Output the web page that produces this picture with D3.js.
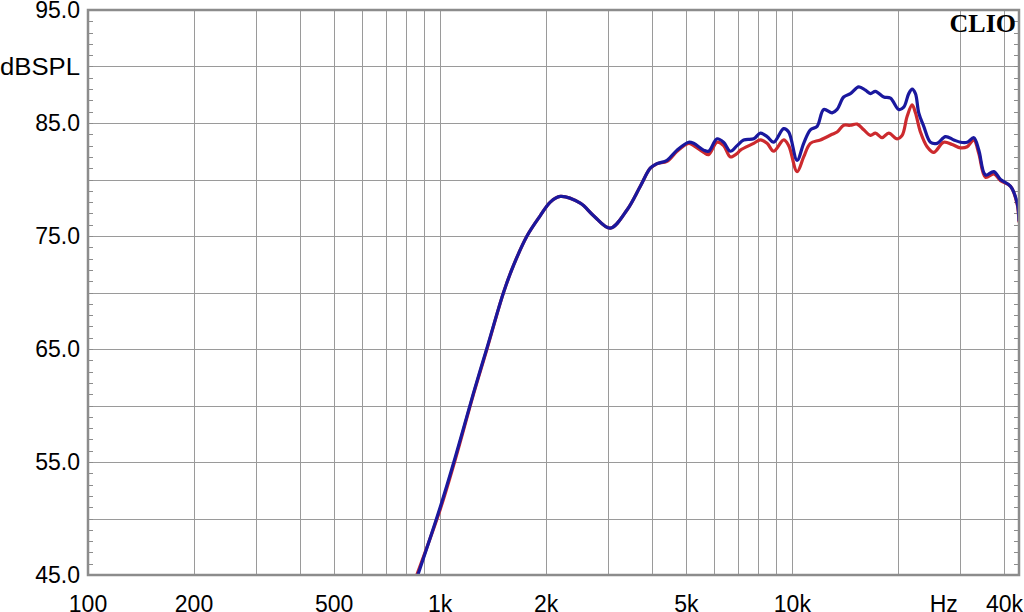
<!DOCTYPE html>
<html>
<head>
<meta charset="utf-8">
<script src="https://cdn.jsdelivr.net/npm/d3@7/dist/d3.min.js"></script>
<style>
  html, body { margin: 0; padding: 0; background: #fff; }
  svg { display: block; }
  text { font-family: "Liberation Sans", Arial, sans-serif; fill: #000; }
</style>
</head>
<body>
<svg id="chart" width="1024" height="612"></svg>
<script>
// ---------- DATA ----------
const freqMin = 100;
const freqMax = 44000;
const dbMin = 45;
const dbMax = 95;

const xGridFreqs = [200, 300, 400, 500, 600, 700, 800, 900, 1000, 2000, 3000, 4000, 5000, 6000, 7000, 8000, 9000, 10000, 20000, 30000, 40000];
const xTickFreqs = [100, 200, 500, 1000, 2000, 5000, 10000, 40000];
const xTickLabels = ["100", "200", "500", "1k", "2k", "5k", "10k", "40k"];
const xUnitLabel = "Hz";
const xUnitFreq = 26900;

const yGridValues = [50, 55, 60, 65, 70, 75, 80, 85, 90];
const yTickValues = [95, 85, 75, 65, 55, 45];
const yTickLabels = ["95.0", "85.0", "75.0", "65.0", "55.0", "45.0"];
const yUnitLabel = "dBSPL";
const yUnitValue = 90;
const brandLabel = "CLIO";

const blueFreq = [864, 1000, 1103, 1243, 1358, 1513, 1615, 1764, 1924, 2054, 2193, 2499, 2726, 3041, 3391, 3700, 3950, 4127, 4406, 4704, 5075, 5243, 5598, 5783, 6111, 6378, 6667, 6965, 7272, 7766, 8111, 8475, 8850, 9447, 9761, 10313, 10768, 11248, 11755, 12275, 12968, 13397, 13985, 14615, 15433, 16124, 16660, 17214, 18175, 18988, 20045, 20712, 21400, 21883, 22357, 22846, 23605, 24660, 25770, 27208, 28722, 30012, 31355, 32743, 33830, 35344, 37321, 38990, 41621, 43489, 44000];
const blueDb = [45.0, 51.0, 55.4, 61.1, 65.1, 70.0, 72.4, 75.0, 76.8, 78.0, 78.5, 77.9, 76.8, 75.7, 77.3, 79.4, 81.0, 81.4, 81.7, 82.6, 83.3, 83.2, 82.6, 82.5, 83.6, 83.3, 82.5, 83.0, 83.5, 83.6, 84.1, 83.8, 83.3, 84.5, 84.2, 81.7, 83.2, 84.4, 84.7, 86.2, 85.9, 86.2, 87.3, 87.6, 88.2, 87.9, 87.6, 87.8, 87.3, 87.2, 86.2, 86.4, 87.6, 88.0, 87.6, 85.9, 84.7, 83.3, 83.2, 83.8, 83.5, 83.3, 83.3, 83.7, 82.6, 80.4, 80.7, 80.0, 79.4, 77.9, 76.3];

const redFreq = [858, 1000, 1103, 1243, 1358, 1513, 1615, 1764, 1924, 2054, 2193, 2499, 2726, 3041, 3391, 3700, 3950, 4127, 4406, 4704, 5075, 5243, 5598, 5783, 6111, 6378, 6667, 6965, 7118, 7766, 8111, 8475, 8850, 9447, 9761, 10313, 10768, 11248, 12010, 12968, 13397, 13985, 14615, 15270, 15946, 16660, 17214, 17980, 18775, 19835, 20494, 21180, 21883, 22357, 23100, 24130, 25200, 26900, 28410, 30012, 31355, 32743, 33830, 35344, 37321, 38990, 41621, 43489, 44000];
const redDb = [45.0, 50.8, 55.2, 61.0, 65.0, 70.0, 72.4, 75.0, 76.8, 78.0, 78.5, 77.9, 76.8, 75.7, 77.3, 79.4, 81.0, 81.4, 81.6, 82.5, 83.2, 83.0, 82.4, 82.2, 83.3, 83.0, 82.0, 82.3, 82.6, 83.2, 83.5, 83.2, 82.5, 83.5, 83.0, 80.7, 82.0, 83.2, 83.5, 84.0, 84.2, 84.8, 84.8, 84.9, 84.4, 83.9, 84.1, 83.7, 84.1, 83.6, 83.9, 85.6, 86.6, 85.9, 84.2, 82.9, 82.4, 83.3, 83.1, 82.8, 82.9, 83.5, 82.3, 80.2, 80.5, 79.9, 79.4, 77.8, 76.2];

// ---------- LAYOUT ----------
const plot = { left: 88, top: 10, right: 1019, bottom: 575 };
const svg = d3.select("#chart");

const x = d3.scaleLog().domain([freqMin, freqMax]).range([plot.left, plot.right]);
const y = d3.scaleLinear().domain([dbMin, dbMax]).range([plot.bottom, plot.top]);

const gridColor = "#9a9a9a";
const frameColor = "#8c8c8c";

// clip
svg.append("defs").append("clipPath").attr("id", "plotClip")
  .append("rect")
  .attr("x", plot.left).attr("y", plot.top)
  .attr("width", plot.right - plot.left).attr("height", plot.bottom - plot.top);

// grid
const grid = svg.append("g");
grid.selectAll("line.v").data(xGridFreqs).join("line")
  .attr("x1", d => Math.round(x(d)) + 0.5).attr("x2", d => Math.round(x(d)) + 0.5)
  .attr("y1", plot.top).attr("y2", plot.bottom)
  .attr("stroke", gridColor).attr("stroke-width", 1);
grid.selectAll("line.h").data(yGridValues).join("line")
  .attr("x1", plot.left).attr("x2", plot.right)
  .attr("y1", d => Math.round(y(d)) + 0.5).attr("y2", d => Math.round(y(d)) + 0.5)
  .attr("stroke", gridColor).attr("stroke-width", 1);

// minor ticks on left and right border every 1 dB
const minorDb = d3.range(dbMin + 1, dbMax, 1);
grid.selectAll("line.tl").data(minorDb).join("line")
  .attr("x1", plot.left).attr("x2", plot.left + 5)
  .attr("y1", d => Math.round(y(d)) + 0.5).attr("y2", d => Math.round(y(d)) + 0.5)
  .attr("stroke", frameColor).attr("stroke-width", 1);
grid.selectAll("line.tr").data(minorDb).join("line")
  .attr("x1", plot.right - 5).attr("x2", plot.right)
  .attr("y1", d => Math.round(y(d)) + 0.5).attr("y2", d => Math.round(y(d)) + 0.5)
  .attr("stroke", frameColor).attr("stroke-width", 1);

// curves
const line = d3.line()
  .x(d => x(d[0])).y(d => y(d[1]))
  .curve(d3.curveCatmullRom.alpha(0.5));

const curves = svg.append("g").attr("clip-path", "url(#plotClip)");
curves.append("path")
  .datum(d3.zip(redFreq, redDb))
  .attr("d", line).attr("fill", "none")
  .attr("stroke", "#cc2a2e").attr("stroke-width", 3.2).attr("stroke-linejoin", "round");
curves.append("path")
  .datum(d3.zip(blueFreq, blueDb))
  .attr("d", line).attr("fill", "none")
  .attr("stroke", "#1a189e").attr("stroke-width", 3.2).attr("stroke-linejoin", "round");

// frame
svg.append("rect")
  .attr("x", plot.left).attr("y", plot.top)
  .attr("width", plot.right - plot.left).attr("height", plot.bottom - plot.top)
  .attr("fill", "none").attr("stroke", frameColor).attr("stroke-width", 2.5);

// y labels
const fontSize = 23;
svg.append("g").selectAll("text").data(yTickValues).join("text")
  .attr("x", 80).attr("y", d => y(d) + 8.2)
  .attr("text-anchor", "end").attr("font-size", fontSize)
  .text((d, i) => yTickLabels[i]);
svg.append("text")
  .attr("x", 80).attr("y", y(yUnitValue) + 8.2)
  .attr("text-anchor", "end").attr("font-size", fontSize)
  .attr("textLength", 80).attr("lengthAdjust", "spacingAndGlyphs")
  .text(yUnitLabel);

// x labels
svg.append("g").selectAll("text").data(xTickFreqs).join("text")
  .attr("x", d => x(d)).attr("y", 611.5)
  .attr("text-anchor", "middle").attr("font-size", fontSize)
  .text((d, i) => xTickLabels[i]);
svg.append("text")
  .attr("x", x(xUnitFreq)).attr("y", 611.5)
  .attr("text-anchor", "middle").attr("font-size", fontSize)
  .text(xUnitLabel);

// brand
svg.append("text")
  .attr("x", 1016).attr("y", 31.5)
  .attr("text-anchor", "end")
  .style("font-family", "'Liberation Serif', 'Times New Roman', serif")
  .attr("font-weight", "bold").attr("font-size", 26)
  .text(brandLabel);
</script>
</body>
</html>
